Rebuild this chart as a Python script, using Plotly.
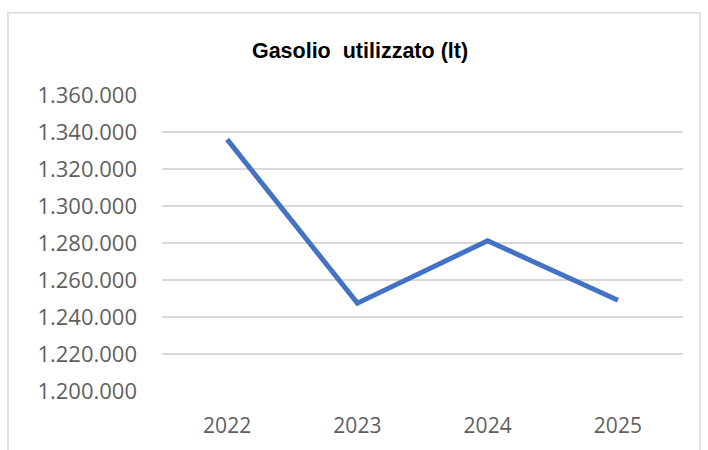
import plotly.graph_objects as go

# Gasolio utilizzato (litri) per anno
anni = ["2022", "2023", "2024", "2025"]
litri = [1336000, 1247500, 1281200, 1249000]
y_ticks = [1200000, 1220000, 1240000, 1260000, 1280000, 1300000, 1320000, 1340000, 1360000]

fig = go.Figure()
fig.add_trace(go.Scatter(
    x=anni, y=litri, mode="lines",
    line=dict(color="#4472C4", width=5),
    hovertemplate="%{x}<br>%{y:,d} lt<extra></extra>",
))

# chart-area frame, Excel style (cropped at bottom)
L, R, T, B = 162, 25, 94.6, 58.5
pw, ph = 708 - L - R, 450 - T - B
fig.add_shape(
    type="rect", xref="paper", yref="paper", layer="below",
    x0=(8 - L) / pw, x1=(700 - L) / pw,
    y0=(450 - B - 470) / ph, y1=(450 - B - 12) / ph,
    line=dict(color="#d9d9d9", width=1.5), fillcolor="white",
)

fig.update_layout(
    width=708, height=450,
    separators=",.",
    paper_bgcolor="white", plot_bgcolor="rgba(0,0,0,0)",
    title=dict(
        text="<b>Gasolio&nbsp; utilizzato (lt)</b>",
        x=(360 - L) / pw, xref="paper", xanchor="center",
        y=1 - 50 / 450, yanchor="middle",
        font=dict(family="Liberation Sans, Arial", size=21.5, color="#000000"),
    ),
    showlegend=False,
    margin=dict(l=L, r=R, t=T, b=B),
    font=dict(family="Open Sans, Calibri, sans-serif", color="#595959"),
)
fig.update_xaxes(
    type="category", range=[-0.5, len(anni) - 0.5], automargin=False,
    showgrid=False, zeroline=False, showline=False, ticks="",
    tickfont=dict(size=21, color="#5f5f5f"), ticklabelstandoff=20,
)
fig.update_yaxes(
    range=[1200000, 1360000], tickvals=y_ticks, tickformat=",d", automargin=False,
    showgrid=True, gridcolor="#d9d9d9", gridwidth=1.5,
    zeroline=False, showline=False, ticks="",
    tickfont=dict(size=22, color="#5f5f5f"), ticklabelstandoff=24,
)

# drop the default page margin so the figure sits at the window origin
fig.write_html(
    "out.html",
    config={"displayModeBar": False},
    post_script="document.body.style.margin='0';",
)
